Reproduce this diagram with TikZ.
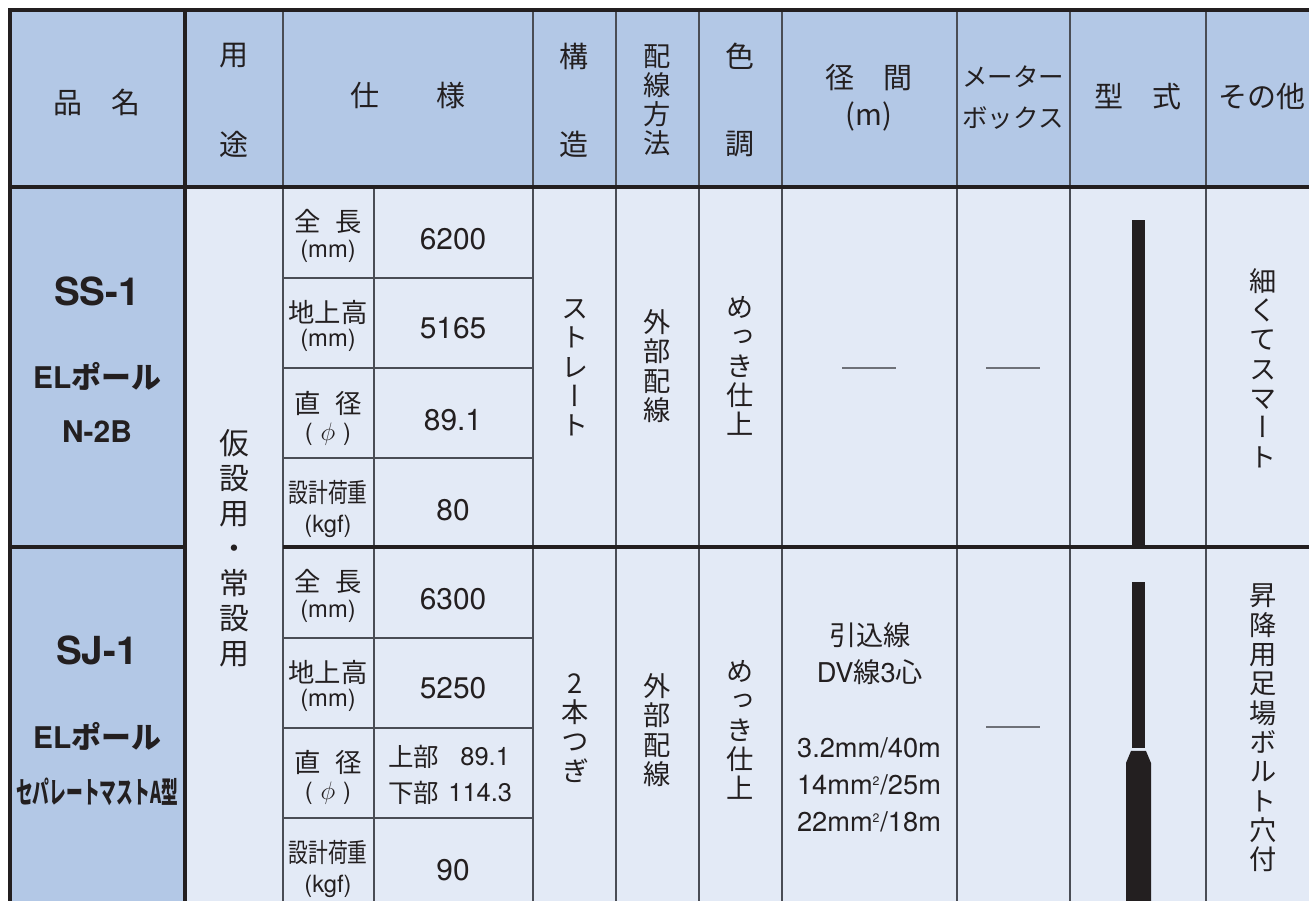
\documentclass[tikz,border=0pt]{standalone}
\usepackage{fontspec}
\usepackage{graphicx}
\setmainfont{TeX Gyre Heros}
\newfontfamily\jp{Noto Sans CJK JP}
\newfontfamily\jpv[RawFeature=+vert]{Noto Sans CJK JP}
\definecolor{hdblue}{HTML}{B3C8E6}
\definecolor{cellblue}{HTML}{E3EAF6}
\definecolor{ink}{HTML}{231F20}
\definecolor{gridgray}{HTML}{4A4D55}
\definecolor{dashgray}{HTML}{6E7178}
\tikzset{
  thickrule/.style={draw=ink, line width=2.2pt},
  thinrule/.style={draw=gridgray, line width=0.9pt},
  dashrule/.style={draw=dashgray, line width=1pt},
  hd/.style={font=\jp\fontsize{16.5}{17}\selectfont, text=ink, inner sep=0pt},
  hdv/.style={font=\jpv\fontsize{15.5}{16.4}\selectfont, text=ink, inner sep=0pt, align=center},
  pname/.style={font=\bfseries\fontsize{22}{26}\selectfont, text=ink, inner sep=0pt},
  psub/.style={font=\bfseries\fontsize{17}{20}\selectfont, text=ink, inner sep=0pt},
  youtov/.style={font=\jpv\fontsize{17}{19.9}\selectfont, text=ink, inner sep=0pt, align=center},
  vbody/.style={font=\jpv\fontsize{15.5}{16.7}\selectfont, text=ink, inner sep=0pt, align=center},
  lbl/.style={font=\jp\fontsize{15}{17}\selectfont, text=ink, inner sep=0pt},
  unit/.style={font=\fontsize{13.5}{15}\selectfont, text=ink, inner sep=0pt},
  val/.style={font=\fontsize{17}{20}\selectfont, text=ink, inner sep=0pt},
  small/.style={font=\fontsize{14.5}{17}\selectfont, text=ink, inner sep=0pt, anchor=west},
  span/.style={font=\fontsize{15.5}{18}\selectfont, text=ink, inner sep=0pt},
}
\begin{document}
\begin{tikzpicture}[x=0.02cm, y=-0.02cm]
\useasboundingbox (0,0) rectangle (1309,901);

\fill[hdblue] (10,10) rectangle (1309,187);
\fill[cellblue] (185,187) rectangle (1309,901);
\fill[hdblue] (10,187) rectangle (185,901);

\foreach \x in {283,533,616,699,782,957,1070,1206}
  \draw[thinrule] (\x,10) -- (\x,901);
\draw[thinrule] (374,187) -- (374,901);
\foreach \y in {278,368,458,638,728,818}
  \draw[thinrule] (283,\y) -- (533,\y);

\draw[thickrule] (1309,10) -- (10,10) -- (10,901);
\draw[thickrule] (185,10) -- (185,901);
\draw[thickrule] (10,187) -- (1309,187);
\draw[thickrule] (10,547) -- (185,547);
\draw[thickrule] (283,547) -- (1309,547);

% header
\node (hinmei) at (97,102) [hd] {品　名};
\node (you1) at (234,56) [hd] {用};
\node (you2) at (234,144) [hd] {途};
\node (shiyo) at (408,96) [hd] {仕　　様};
\node (kozo1) at (574,56) [hd] {構};
\node (kozo2) at (574,144) [hd] {造};
\node (haisen) at (657,100) [hdv] {配\\線\\方\\法};
\node (shiki1) at (740,56) [hd] {色};
\node (shiki2) at (740,144) [hd] {調};
\node (keikan) at (869,78) [hd] {径　間};
\node (keiunit) at (869,116) [hd] {(m)};
\node (meter1) at (1013,77) [hd, font=\jp\fontsize{14.5}{17}\selectfont] {メーター};
\node (meter2) at (1013,118) [hd, font=\jp\fontsize{14.5}{17}\selectfont] {ボックス};
\node (kata) at (1138,97) [hd] {型　式};
\node (sonota) at (1262,96) [hd] {その他};

% SS-1
\node (ss) at (97,291) [pname] {SS-1};
\node (ssel) at (97,376) [psub] {EL{\jp ポール}};
\node (sstype) at (97,432) [psub] {N-2B};
\node (youto) at (234,548) [youtov] {仮\\設\\用\\・\\常\\設\\用};

\node (zl1) at (328,222) [lbl] {全\kern.55em長};
\node (zu1) at (328,251) [unit] {(mm)};
\node (zv1) at (453,239) [val] {6200};
\node (cl1) at (328,312) [lbl] {地上高};
\node (cu1) at (328,340) [unit] {(mm)};
\node (cv1) at (453,328) [val] {5165};
\node (dl1) at (328,403) [lbl] {直\kern.55em径};
\node (du1) at (328,434) [unit] {(\,\,$\phi$\,\,)};
\node (dv1) at (453,420) [val] {89.1};
\node (sl1) at (328,492) [lbl] {\scalebox{0.75}[1]{設計荷重}};
\node (su1) at (328,526) [unit] {(kgf)};
\node (sv1) at (453,510) [val] {80};

\node (kozov1) at (575,368) [vbody] {ス\\ト\\レ\\ー\\ト};
\node (haiv1) at (657,366) [vbody] {外\\部\\配\\線};
\node (shikiv1) at (740,366) [vbody] {め\\っ\\き\\仕\\上};
\draw[dashrule] (842,368) -- (896,368);
\draw[dashrule] (986,368) -- (1040,368);
\fill[ink] (1132,220) rectangle (1145,547);
\node (biko1) at (1263,368) [vbody] {細\\く\\て\\ス\\マ\\ー\\ト};

% SJ-1
\node (sj) at (97,650) [pname] {SJ-1};
\node (sjel) at (97,736) [psub] {EL{\jp ポール}};
\node (sjtype) at (97,792) [psub] {\jp\scalebox{0.56}[1]{セパレートマストA型}};

\node (zl2) at (328,582) [lbl] {全\kern.55em長};
\node (zu2) at (328,611) [unit] {(mm)};
\node (zv2) at (453,599) [val] {6300};
\node (cl2) at (328,672) [lbl] {地上高};
\node (cu2) at (328,700) [unit] {(mm)};
\node (cv2) at (453,688) [val] {5250};
\node (dl2) at (328,762) [lbl] {直\kern.55em径};
\node (du2) at (328,793) [unit] {(\,\,$\phi$\,\,)};
\node (jbl) at (388,757) [small] {\jp 上部};
\node (jbv) at (460,757) [small] {89.1};
\node (kbl) at (388,793) [small] {\jp 下部};
\node (kbv) at (448,793) [small] {114.3};
\node (sl2) at (328,852) [lbl] {\scalebox{0.75}[1]{設計荷重}};
\node (su2) at (328,886) [unit] {(kgf)};
\node (sv2) at (453,870) [val] {90};

\node (kozov2) at (575,728) [vbody] {2\\本\\つ\\ぎ};
\node (haiv2) at (657,730) [vbody] {外\\部\\配\\線};
\node (shikiv2) at (740,730) [vbody] {め\\っ\\き\\仕\\上};
\node (hikikomi) at (870,635) [span] {\jp 引込線};
\node (dvsen) at (870,672) [span] {DV{\jp 線}3{\jp 心}};
\node (ks1) at (869,748) [span] {3.2mm/40m};
\node (ks2) at (869,785) [span] {14mm\textsuperscript{\scriptsize 2}/25m};
\node (ks3) at (869,822) [span] {22mm\textsuperscript{\scriptsize 2}/18m};
\draw[dashrule] (986,727) -- (1040,727);
\fill[ink] (1132,582) rectangle (1145,748);
\fill[ink] (1126,901) -- (1126,763) -- (1131,751) -- (1146,751) -- (1151,763) -- (1151,901) -- cycle;
\node (biko2) at (1263,728) [vbody] {昇\\降\\用\\足\\場\\ボ\\ル\\ト\\穴\\付};
\end{tikzpicture}
\end{document}
